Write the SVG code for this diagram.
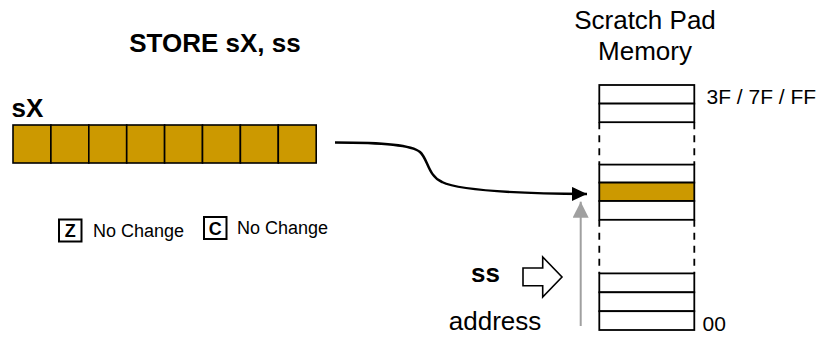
<svg xmlns="http://www.w3.org/2000/svg" width="817" height="337" viewBox="0 0 817 337">
<style>
  text { font-family: "Liberation Sans", Arial, sans-serif; fill: #000; }
  .big { font-size: 26px; }
  .bold { font-weight: bold; }
  .small { font-size: 18px; }
  .label { font-size: 21px; }
  .cell { fill: #CC9900; stroke: #000; stroke-width: 1.6; }
  .row { fill: #fff; stroke: #000; stroke-width: 1.8; }
  .hl { fill: #CC9900; stroke: #000; stroke-width: 1.8; }
  .dash { stroke: #000; stroke-width: 1.8; stroke-dasharray: 7 6; fill: none; }
  .flag { fill: #fff; stroke: #000; stroke-width: 2; }
</style>
<defs>
  <marker id="blackHead" markerUnits="userSpaceOnUse" markerWidth="16" markerHeight="16" refX="15" refY="7" orient="auto">
    <path d="M0,0 L15,7 L0,14 Z" fill="#000"/>
  </marker>
  <marker id="grayHead" markerUnits="userSpaceOnUse" markerWidth="18" markerHeight="18" refX="16" refY="8" orient="auto">
    <path d="M0,0 L16,8 L0,16 Z" fill="#A0A0A0"/>
  </marker>
</defs>
<rect width="817" height="337" fill="#fff"/>

<g id="title">
  <text class="big bold" x="215" y="52" text-anchor="middle">STORE sX, ss</text>
</g>

<g id="register-sX">
  <text class="big bold" x="11.5" y="117">sX</text>
  <rect class="cell" x="13" y="125" width="37.9" height="38"/>
  <rect class="cell" x="50.9" y="125" width="37.9" height="38"/>
  <rect class="cell" x="88.8" y="125" width="37.9" height="38"/>
  <rect class="cell" x="126.7" y="125" width="37.9" height="38"/>
  <rect class="cell" x="164.6" y="125" width="37.9" height="38"/>
  <rect class="cell" x="202.5" y="125" width="37.9" height="38"/>
  <rect class="cell" x="240.4" y="125" width="37.9" height="38"/>
  <rect class="cell" x="278.3" y="125" width="37.9" height="38"/>
</g>

<g id="flags">
  <rect class="flag" x="59" y="219.5" width="22.5" height="22"/>
  <text class="small bold" x="70.2" y="237" text-anchor="middle">Z</text>
  <text class="small" x="93" y="236.5">No Change</text>
  <rect class="flag" x="204" y="217" width="22.5" height="22"/>
  <text class="small bold" x="215.2" y="234.5" text-anchor="middle">C</text>
  <text class="small" x="237" y="234">No Change</text>
</g>

<g id="scratch-pad-memory">
  <text class="big" x="645" y="29" text-anchor="middle">Scratch Pad</text>
  <text class="big" x="645" y="60" text-anchor="middle">Memory</text>
  <rect class="row" x="599.3" y="85" width="95" height="18.6"/>
  <rect class="row" x="599.3" y="103.6" width="95" height="18.6"/>
  <line class="dash" x1="599.3" y1="122.2" x2="599.3" y2="164.6"/>
  <line class="dash" x1="694.3" y1="122.2" x2="694.3" y2="164.6"/>
  <rect class="row" x="599.3" y="164.6" width="95" height="18"/>
  <rect class="hl" x="599.3" y="182.6" width="95" height="18.4"/>
  <rect class="row" x="599.3" y="201" width="95" height="18.8"/>
  <line class="dash" x1="599.3" y1="219.8" x2="599.3" y2="273.4"/>
  <line class="dash" x1="694.3" y1="219.8" x2="694.3" y2="273.4"/>
  <rect class="row" x="599.3" y="273.4" width="95" height="18.9"/>
  <rect class="row" x="599.3" y="292.3" width="95" height="18.9"/>
  <rect class="row" x="599.3" y="311.2" width="95" height="18.8"/>
  <text class="label" x="706.5" y="103.5">3F / 7F / FF</text>
  <text class="label" x="702.5" y="331" font-size="20">00</text>
</g>

<g id="address-ss">
  <text class="big bold" x="485.5" y="282" text-anchor="middle">ss</text>
  <path d="M523,268 L542.7,268 L542.7,257 L562,277 L542.7,297 L542.7,285.7 L523,285.7 Z" fill="#fff" stroke="#000" stroke-width="1.6" stroke-linejoin="miter"/>
  <text class="big" x="495" y="330" text-anchor="middle">address</text>
</g>

<g id="connectors">
  <path d="M335,142.5 C385,142.5 412,145 420,152 C428,159 428,176 442,182 C458,190 510,193.5 587,194" fill="none" stroke="#000" stroke-width="2.5" marker-end="url(#blackHead)"/>
  <line x1="580.7" y1="326" x2="580.7" y2="201.7" stroke="#A0A0A0" stroke-width="2" marker-end="url(#grayHead)"/>
</g>
</svg>
